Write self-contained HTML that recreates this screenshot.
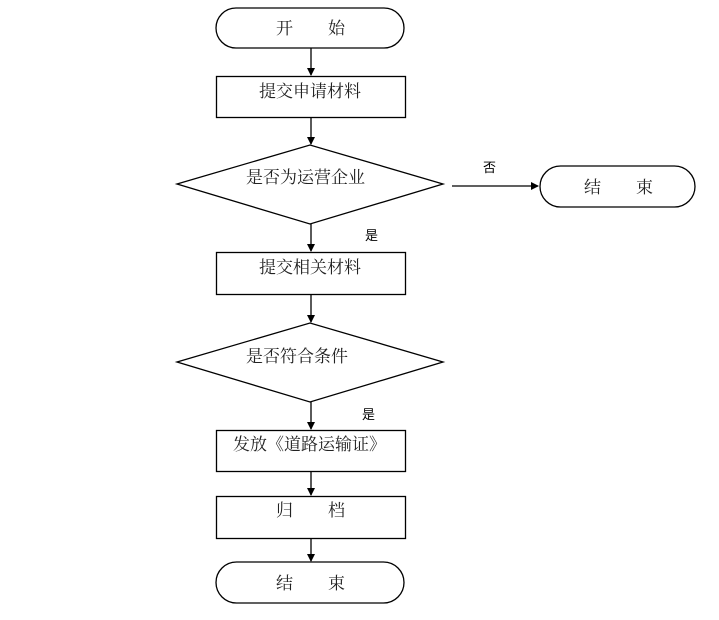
<!DOCTYPE html>
<html><head><meta charset="utf-8"><style>
html,body{margin:0;padding:0;background:#fff;}
text{font-family:"Liberation Serif","Noto Serif CJK SC","Noto Sans CJK SC",serif;font-size:17px;fill:#222;}
.s{font-family:"Liberation Sans","Noto Sans CJK SC",sans-serif;font-size:13px;fill:#000;}
</style></head><body>
<svg width="719" height="615" viewBox="0 0 719 615" xmlns="http://www.w3.org/2000/svg">
<defs><marker id="a" markerWidth="8" markerHeight="8" refX="7" refY="4" orient="auto" markerUnits="userSpaceOnUse"><path d="M0,0 L8,4 L0,8 Z" fill="#000"/></marker></defs>
<g fill="none" stroke="#000" stroke-width="1.3">
<rect x="216" y="8" width="188" height="40" rx="20"/>
<rect x="216.5" y="76.5" width="189" height="41"/>
<polygon points="177,184 310,145 443,184 310,224"/>
<rect x="216.5" y="252.5" width="189" height="42"/>
<polygon points="177,362 310,323 443,362 310,402"/>
<rect x="216.5" y="430.5" width="189" height="41"/>
<rect x="216.5" y="496.5" width="189" height="42"/>
<rect x="216" y="562" width="188" height="41" rx="20.5"/>
<rect x="540" y="166" width="155" height="41" rx="20.5"/>
<line x1="311" y1="48" x2="311" y2="75" marker-end="url(#a)"/>
<line x1="311" y1="117" x2="311" y2="144" marker-end="url(#a)"/>
<line x1="311" y1="224" x2="311" y2="251" marker-end="url(#a)"/>
<line x1="311" y1="294" x2="311" y2="322" marker-end="url(#a)"/>
<line x1="311" y1="402" x2="311" y2="429" marker-end="url(#a)"/>
<line x1="311" y1="471" x2="311" y2="495" marker-end="url(#a)"/>
<line x1="311" y1="538" x2="311" y2="561" marker-end="url(#a)"/>
<line x1="452" y1="186" x2="538" y2="186" marker-end="url(#a)"/>
</g>
<text x="276" y="34">开</text><text x="328" y="34">始</text>
<text x="259" y="97">提交申请材料</text>
<text x="246" y="183">是否为运营企业</text>
<text x="259" y="273">提交相关材料</text>
<text x="246" y="362">是否符合条件</text>
<text x="233" y="450">发放《道路运输证》</text>
<text x="276" y="516">归</text><text x="328" y="516">档</text>
<text x="276" y="589">结</text><text x="328" y="589">束</text>
<text x="584" y="193">结</text><text x="636" y="193">束</text>
<text class="s" x="483" y="172">否</text>
<text class="s" x="365" y="240">是</text>
<text class="s" x="362" y="419">是</text>
</svg>
</body></html>
